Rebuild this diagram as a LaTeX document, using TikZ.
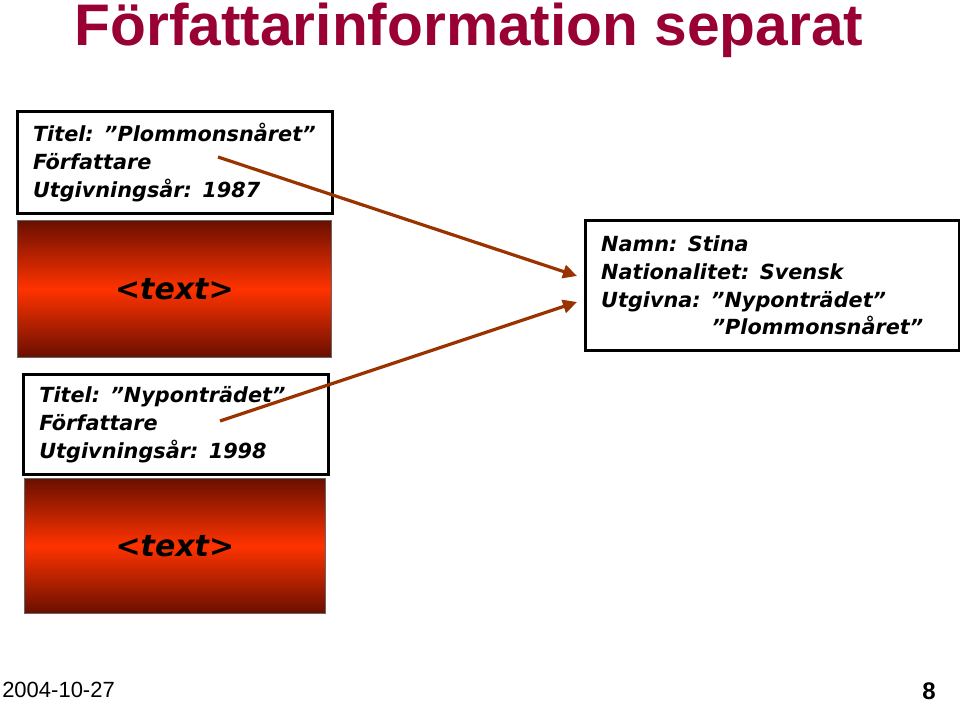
\documentclass[tikz,border=0pt]{standalone}
\usepackage{fontspec}
\setmainfont{DejaVu Sans}
\newfontfamily\arialfont{Liberation Sans}
\usetikzlibrary{arrows.meta}
\definecolor{titlered}{RGB}{153,0,51}
\definecolor{darkred}{RGB}{105,15,0}
\definecolor{orangered}{RGB}{255,51,0}
\definecolor{arrowbrown}{RGB}{153,51,0}
\tikzset{
  infobox/.style={draw=black, line width=2.25pt, fill=white, rectangle, anchor=north west,
    align=left, inner xsep=11.5pt, inner ysep=0pt, font=\boxtext},
  redbox/.style={draw=black!60, line width=0.6pt, rectangle, anchor=north west,
    top color=darkred, bottom color=darkred, middle color=orangered,
    font=\bfseries\itshape\fontsize{22.5}{26}\selectfont},
  link/.style={draw=arrowbrown, line width=2.4pt, -{Triangle[length=10.5pt,width=10pt]}}
}
\newcommand\boxtext{\bfseries\itshape\fontsize{15.6}{20.8}\selectfont}
\begin{document}
\begin{tikzpicture}[x=0.75pt,y=-0.75pt]
\useasboundingbox (0,0) rectangle (960,703);
% title
\node[anchor=base, text=titlered, font=\arialfont\bfseries\fontsize{44}{48}\selectfont, inner sep=0pt] (title) at (469,45)
  {Författarinformation separat};
% left column
\node[infobox, minimum width=236.25pt, minimum height=76.5pt, text width=213pt] (b1) at (16,110)
  {Titel: ”Plommonsnåret”\\Författare\\Utgivningsår: 1987};
\node[redbox, minimum width=235.5pt, minimum height=102.75pt] (r1) at (17,220) {<text>};
\node[infobox, minimum width=228.75pt, minimum height=75pt, text width=205pt] (b2) at (22,373)
  {Titel: ”Nyponträdet”\\Författare\\Utgivningsår: 1998};
\node[redbox, minimum width=225.75pt, minimum height=101.25pt] (r2) at (24,478) {<text>};
% right box
\node[infobox, minimum width=280.5pt, minimum height=97.5pt, text width=257pt] (auth) at (584,219)
  {Namn: Stina\\Nationalitet: Svensk\\Utgivna: ”Nyponträdet”\\\hspace*{83pt}”Plommonsnåret”};
% connectors
\coordinate (s1) at (218,157);
\coordinate (s2) at (220,421);
\coordinate (e1) at (577,276);
\coordinate (e2) at (577,302);
\draw[link] (s1) -- (e1);
\draw[link] (s2) -- (e2);
% footer
\node[anchor=west, font=\arialfont\fontsize{16.5}{18}\selectfont, inner sep=0pt] (date) at (2,690) {2004-10-27};
\node[anchor=east, font=\arialfont\bfseries\fontsize{18}{20}\selectfont, inner sep=0pt] (page) at (936,691) {8};
\end{tikzpicture}
\end{document}
